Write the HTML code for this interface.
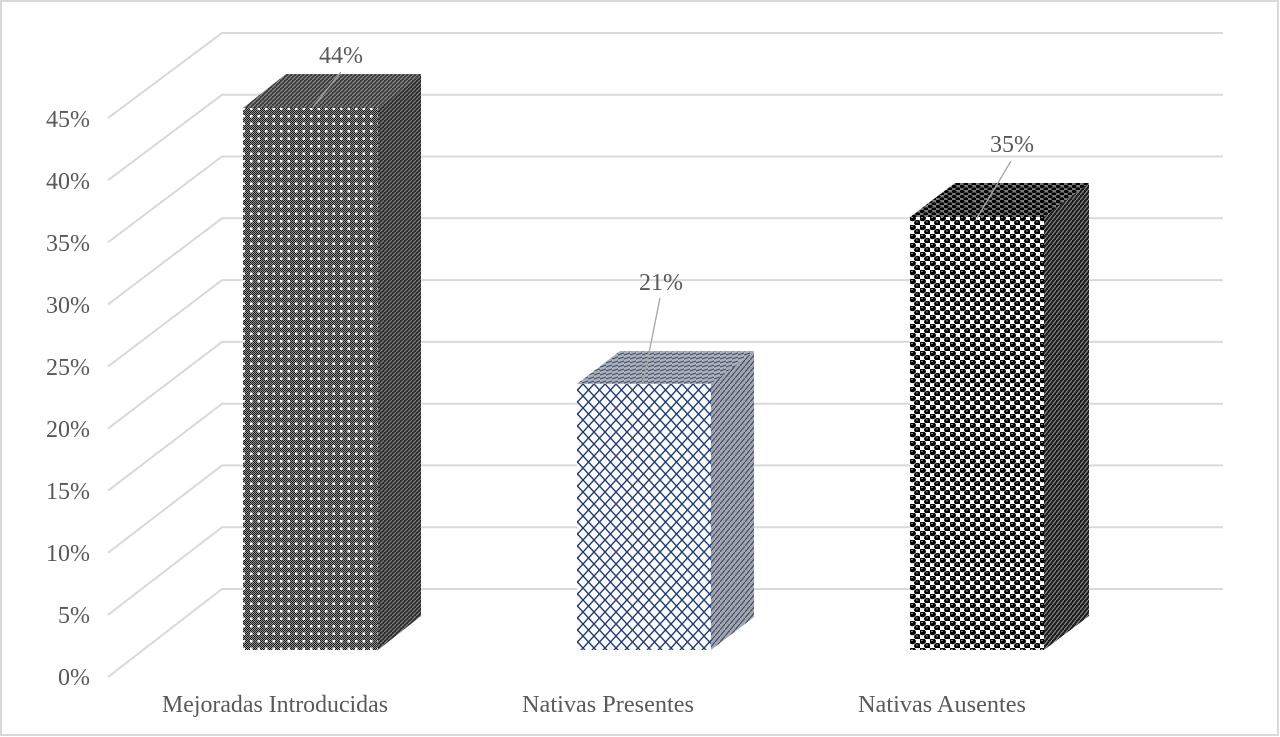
<!DOCTYPE html>
<html><head><meta charset="utf-8"><style>
html,body{margin:0;padding:0;background:#fff;}
svg{display:block;}
text{font-family:"Liberation Serif","Times New Roman",serif;fill:#595959;}
</style></head><body>
<svg width="1280" height="737" viewBox="0 0 1280 737" xmlns="http://www.w3.org/2000/svg">
<defs>
  <pattern id="chk" width="2" height="2" patternUnits="userSpaceOnUse">
    <rect width="2" height="2" fill="#949494"/>
    <path d="M0,0h1v1h-1z M1,1h1v1h-1z" fill="#1a1a1a"/>
  </pattern>
  <pattern id="dots1" width="7.5" height="7.5" patternUnits="userSpaceOnUse">
    <rect x="2.5" y="2.5" width="2.5" height="2.5" fill="#fff"/>
  </pattern>
  <pattern id="side1" width="4" height="4" patternUnits="userSpaceOnUse">
    <rect width="4" height="4" fill="#2e2e2e"/>
    <path d="M0,4 L4,0" stroke="#7a7a7a" stroke-width="1.2"/>
  </pattern>
  <pattern id="top1" width="4" height="4" patternUnits="userSpaceOnUse">
    <rect width="4" height="4" fill="#3c3c3c"/>
    <path d="M0,4 L4,0" stroke="#8a8a8a" stroke-width="1.2"/>
  </pattern>
  <pattern id="lat" width="11" height="12" patternUnits="userSpaceOnUse">
    <rect width="11" height="12" fill="#fbfcff"/>
    <path d="M0,0 L11,12 M11,0 L0,12" stroke="#223a6c" stroke-width="1.4"/>
  </pattern>
  <pattern id="side2" width="5" height="6" patternUnits="userSpaceOnUse">
    <rect width="5" height="6" fill="#a2a6ae"/>
    <path d="M0,6 L5,0" stroke="#3c4660" stroke-width="1.1"/>
  </pattern>
  <pattern id="top2" width="6" height="4" patternUnits="userSpaceOnUse">
    <rect width="6" height="4" fill="#a9afbc"/>
    <path d="M0,3 L6,1" stroke="#3a4459" stroke-width="1"/>
  </pattern>
  <pattern id="circ" width="10" height="9" patternUnits="userSpaceOnUse">
    <rect width="10" height="9" fill="#fff"/>
    <ellipse cx="2.5" cy="2.3" rx="3.5" ry="2.9" fill="#000"/>
    <ellipse cx="7.5" cy="6.8" rx="3.5" ry="2.9" fill="#000"/>
    <ellipse cx="2" cy="1.5" rx="1" ry="0.6" fill="#999"/>
    <ellipse cx="7" cy="6" rx="1" ry="0.6" fill="#999"/>
  </pattern>
  <pattern id="side3" width="4" height="5" patternUnits="userSpaceOnUse">
    <rect width="4" height="5" fill="#1e1e1e"/>
    <path d="M0,5 L4,0" stroke="#8c8c8c" stroke-width="1.1"/>
  </pattern>
  <pattern id="top3" width="8" height="5" patternUnits="userSpaceOnUse">
    <rect width="8" height="5" fill="#7a7a7a"/>
    <ellipse cx="2" cy="1.5" rx="2.6" ry="1.6" fill="#000"/>
    <ellipse cx="6" cy="4" rx="2.6" ry="1.6" fill="#000"/>
  </pattern>
</defs>

<rect x="1" y="1" width="1277" height="734" fill="#fff" stroke="#d9d9d9" stroke-width="2"/>

<g stroke="#d9d9d9" stroke-width="2" fill="none">
  <path d="M108,677 L222,589 H1223"/>
  <path d="M108,614.9 L222,527.2 H1223"/>
  <path d="M108,552.8 L222,465.4 H1223"/>
  <path d="M108,490.7 L222,403.7 H1223"/>
  <path d="M108,428.6 L222,341.9 H1223"/>
  <path d="M108,366.5 L222,280.1 H1223"/>
  <path d="M108,304.4 L222,218.3 H1223"/>
  <path d="M108,242.3 L222,156.5 H1223"/>
  <path d="M108,180.2 L222,94.8 H1223"/>
  <path d="M108,118.1 L222,33 H1223"/>
</g>

<g font-size="24" text-anchor="end">
  <text x="90" y="685">0%</text>
  <text x="90" y="623">5%</text>
  <text x="90" y="561">10%</text>
  <text x="90" y="499">15%</text>
  <text x="90" y="437">20%</text>
  <text x="90" y="375">25%</text>
  <text x="90" y="313">30%</text>
  <text x="90" y="251">35%</text>
  <text x="90" y="189">40%</text>
  <text x="90" y="127">45%</text>
</g>

<polygon points="378,108 421,74 421,616 378,650" fill="url(#side1)"/>
<polygon points="243,108 286,74 421,74 378,108" fill="url(#top1)"/>
<rect x="243" y="108" width="135" height="542" fill="url(#chk)"/>
<rect x="243" y="108" width="135" height="542" fill="url(#dots1)"/>

<polygon points="711,384 754,351 754,617 711,650" fill="url(#side2)"/>
<polygon points="577,384 620,351 754,351 711,384" fill="url(#top2)"/>
<rect x="577" y="384" width="134" height="266" fill="url(#lat)"/>

<polygon points="1044,217 1089,183 1089,616 1044,650" fill="url(#side3)"/>
<polygon points="910,217 955,183 1089,183 1044,217" fill="url(#top3)"/>
<rect x="910" y="217" width="134" height="433" fill="url(#circ)"/>

<g stroke="#a6a6a6" stroke-width="1.3">
  <line x1="341" y1="72" x2="313" y2="107"/>
  <line x1="660" y1="298" x2="643" y2="383"/>
  <line x1="1011" y1="161" x2="977" y2="218"/>
</g>

<g font-size="24" text-anchor="middle">
  <text x="341" y="63">44%</text>
  <text x="661" y="290">21%</text>
  <text x="1012" y="152">35%</text>
</g>

<g font-size="24">
  <text x="162" y="712" textLength="226" lengthAdjust="spacingAndGlyphs">Mejoradas Introducidas</text>
  <text x="522" y="712" textLength="172" lengthAdjust="spacingAndGlyphs">Nativas Presentes</text>
  <text x="858" y="712" textLength="168" lengthAdjust="spacingAndGlyphs">Nativas Ausentes</text>
</g>
</svg>
</body></html>
